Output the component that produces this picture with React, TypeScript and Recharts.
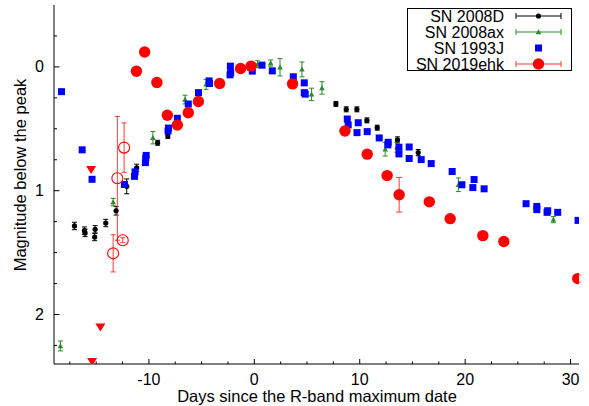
import { ErrorBar, Legend, Scatter, ScatterChart, XAxis, YAxis } from "recharts";

const FONT = "'Liberation Sans', Arial, Helvetica, sans-serif";

// axis ticks
const xTicks = [-17.5, -15, -12.5, -10, -7.5, -5, -2.5, 0, 2.5, 5, 7.5, 10, 12.5, 15, 17.5, 20, 22.5, 25, 27.5, 30];
const xLabels = [-10, 0, 10, 20, 30];
const yTicks = [-0.25, 0, 0.25, 0.5, 0.75, 1, 1.25, 1.5, 1.75, 2, 2.25];
const yLabels = [0, 1, 2];

// SN 2008D
const d08Days = [-17.06, -16.11, -16.05, -15.14, -15.1, -14.09, -13.11, -12.1, -11.16, -9.17, -8.2, 7.74, 8.72, 9.73, 10.68, 11.66, 13.58, 15.55];
const d08Mag = [1.285, 1.323, 1.341, 1.374, 1.312, 1.261, 1.162, 0.965, 0.816, 0.613, 0.558, 0.299, 0.343, 0.343, 0.432, 0.491, 0.59, 0.692];
const d08Err = [0.03, 0.03, 0.03, 0.03, 0.03, 0.03, 0.035, 0.06, 0.03, 0.02, 0.02, 0.02, 0.02, 0.02, 0.02, 0.02, 0.025, 0.025];

// SN 2008ax
const ax08Days = [-18.39, -13.39, -9.62, -6.57, -4.57, 0.31, 1.55, 2.44, 4.52, 5.43, 6.42, 12.42, 13.53, 19.36, 28.37];
const ax08Mag = [2.254, 1.092, 0.572, 0.264, 0.141, -0.022, -0.031, 0.003, 0.02, 0.222, 0.17, 0.665, 0.649, 0.952, 1.234];
const ax08Err = [0.04, 0.03, 0.05, 0.035, 0.04, 0.028, 0.025, 0.07, 0.06, 0.05, 0.05, 0.055, 0.04, 0.055, 0.025];

// SN 1993J
const j93Days = [-18.29, -16.33, -15.39, -12.32, -11.37, -11.31, -10.33, -10.3, -10.26, -8.18, -8.14, -7.3, -6.26, -5.29, -4.29, -4.25, -2.27, -2.24, -2.3, -0.19, 0.73, 1.71, 3.7, 4.74, 4.74, 4.83, 8.82, 8.91, 9.86, 9.74, 10.71, 11.85, 12.7, 12.67, 13.72, 13.72, 14.69, 14.69, 15.83, 16.78, 18.77, 19.69, 20.85, 20.73, 21.8, 25.78, 26.8, 26.8, 27.83, 27.77, 28.78, 30.71];
const j93Mag = [0.2, 0.67, 0.908, 0.95, 0.884, 0.848, 0.773, 0.739, 0.715, 0.518, 0.494, 0.415, 0.3, 0.208, 0.113, 0.134, -0.006, 0.045, 0.064, 0.034, -0.014, 0.032, 0.08, 0.129, 0.208, 0.22, 0.421, 0.469, 0.451, 0.531, 0.523, 0.574, 0.609, 0.63, 0.649, 0.703, 0.647, 0.74, 0.749, 0.781, 0.845, 0.952, 0.91, 0.975, 0.985, 1.105, 1.127, 1.153, 1.162, 1.175, 1.175, 1.24];

// SN 2019ehk
const ehkDays = [-11.18, -10.4, -9.24, -8.25, -7.3, -6.26, -5.3, -3.29, -1.3, -0.31, 3.63, 8.6, 10.71, 12.6, 13.74, 16.6, 18.58, 21.68, 23.67, 30.68];
const ehkMag = [0.035, -0.12, 0.126, 0.39, 0.47, 0.37, 0.28, 0.134, 0.013, -0.006, 0.137, 0.518, 0.705, 0.878, 1.033, 1.09, 1.226, 1.363, 1.411, 1.71];
const ehkErr = [0, 0, 0, 0, 0, 0, 0, 0, 0, 0, 0, 0, 0, 0, 0.14, 0, 0, 0.03, 0, 0.03];

// SN 2019ehk, early points (open circles)
const ehkEarlyDays = [-12.35, -12.99, -12.48, -13.39];
const ehkEarlyMag = [0.652, 0.9, 1.4, 1.506];
const ehkEarlyErr = [0.2, 0.5, 0.02, 0.15];

// SN 2019ehk upper limits
const ehkLimDays = [-15.48, -14.6, -15.38];
const ehkLimMag = [0.832, 2.106, 2.383];

const legendNames = ["SN 2008D", "SN 2008ax", "SN 1993J", "SN 2019ehk"];

const zip = (xs: number[], ys: number[], es?: number[]) =>
  xs.map((x, i) => ({ x, y: ys[i], err: es ? es[i] : 0 }));

const d08 = zip(d08Days, d08Mag, d08Err);
const ax08 = zip(ax08Days, ax08Mag, ax08Err);
const j93 = zip(j93Days, j93Mag);
const ehk = zip(ehkDays, ehkMag, ehkErr);
const ehkEarly = zip(ehkEarlyDays, ehkEarlyMag, ehkEarlyErr);
const ehkLim = zip(ehkLimDays, ehkLimMag);

const RED = "#ff0000";
const RED_BAR = "#ff3a3a";
const GREEN = "#2a8c2a";
const BLUE = "#0000ff";

const dot = (p: any) => <circle cx={p.cx} cy={p.cy} r={2.6} fill="#000" />;
const tri = (p: any) => (
  <path d={`M${p.cx - 2.8},${p.cy + 2.2}L${p.cx + 2.8},${p.cy + 2.2}L${p.cx},${p.cy - 2.8}Z`} fill={GREEN} />
);
const square = (p: any) => <rect x={p.cx - 3.5} y={p.cy - 3.5} width={7} height={7} fill={BLUE} />;
const bigDot = (p: any) => <circle cx={p.cx} cy={p.cy} r={5.7} fill={RED} />;
const ring = (p: any) => <circle cx={p.cx} cy={p.cy} r={5.5} fill="none" stroke={RED} strokeWidth={1.1} />;
const downTri = (p: any) => (
  <path d={`M${p.cx - 5},${p.cy - 4}L${p.cx + 5},${p.cy - 4}L${p.cx},${p.cy + 4}Z`} fill={RED} />
);

function BottomTick(p: any) {
  const major = xLabels.includes(p.payload.value);
  return (
    <g>
      <line x1={p.x} x2={p.x} y1={p.y} y2={p.y - (major ? 5 : 2.5)} stroke="#000" />
      {major && (
        <text x={p.x} y={p.y + 20.5} textAnchor="middle" fontSize={16} fontFamily={FONT} fill="#000">
          {p.payload.value}
        </text>
      )}
    </g>
  );
}

function TopTick(p: any) {
  const major = xLabels.includes(p.payload.value);
  return <line x1={p.x} x2={p.x} y1={p.y} y2={p.y + (major ? 5 : 2.5)} stroke="#000" />;
}

function LeftTick(p: any) {
  const major = yLabels.includes(p.payload.value);
  return (
    <g>
      <line x1={p.x} x2={p.x + (major ? 5.5 : 3)} y1={p.y} y2={p.y} stroke="#000" />
      {major && (
        <text x={p.x - 10} y={p.y + 5.5} textAnchor="end" fontSize={16} fontFamily={FONT} fill="#000">
          {p.payload.value}
        </text>
      )}
    </g>
  );
}

function RightTick(p: any) {
  const major = yLabels.includes(p.payload.value);
  return <line x1={p.x} x2={p.x - (major ? 5.5 : 3)} y1={p.y} y2={p.y} stroke="#000" />;
}

function LegendBox() {
  const rowY = [8, 24, 40, 56];
  const sample = (i: number, y: number) => {
    if (i === 2) return <rect x={128} y={y - 3.5} width={7} height={7} fill={BLUE} />;
    const c = i === 0 ? "#000" : i === 1 ? GREEN : RED_BAR;
    return (
      <g>
        <line x1={109} x2={154} y1={y} y2={y} stroke={c} />
        <line x1={109} x2={109} y1={y - 3} y2={y + 3} stroke={c} />
        <line x1={154} x2={154} y1={y - 3} y2={y + 3} stroke={c} />
        {i === 0 && <circle cx={131.5} cy={y} r={2.6} fill="#000" />}
        {i === 1 && <path d={`M128.7,${y + 2.2}L134.3,${y + 2.2}L131.5,${y - 2.8}Z`} fill={GREEN} />}
        {i === 3 && <circle cx={131.5} cy={y} r={5.7} fill={RED} />}
      </g>
    );
  };
  return (
    <svg width={166} height={64} style={{ display: "block" }}>
      <rect x={0.5} y={0.5} width={164} height={62} fill="#fff" stroke="#000" />
      {legendNames.map((n, i) => (
        <g key={n}>
          <text x={97} y={rowY[i] + 5.5} textAnchor="end" fontSize={16} fontFamily={FONT} fill="#000">
            {n}
          </text>
          {sample(i, rowY[i])}
        </g>
      ))}
    </svg>
  );
}

export default function App() {
  return (
    <div style={{ position: "absolute", left: 0, top: 0, width: 589, height: 406, background: "#fff" }}>
      <ScatterChart width={589} height={406} margin={{ top: 5, right: 10, bottom: 0, left: 0 }}>
        <XAxis
          xAxisId="b"
          type="number"
          dataKey="x"
          domain={[-19, 30.8]}
          allowDataOverflow
          ticks={xTicks}
          interval={0}
          tickSize={0}
          tickMargin={0}
          tick={BottomTick}
          height={42}
          axisLine={{ stroke: "#000" }}
          tickLine={false}
          label={() => (
            <text x={317} y={402} textAnchor="middle" fontSize={16.5} fontFamily={FONT} fill="#000">
              Days since the R-band maximum date
            </text>
          )}
        />
        <XAxis
          xAxisId="t"
          orientation="top"
          type="number"
          dataKey="x"
          domain={[-19, 30.8]}
          allowDataOverflow
          ticks={xTicks}
          interval={0}
          tickSize={0}
          tickMargin={0}
          tick={TopTick}
          height={0}
          axisLine={{ stroke: "#000" }}
          tickLine={false}
        />
        <YAxis
          yAxisId="l"
          type="number"
          dataKey="y"
          domain={[-0.5, 2.4]}
          reversed
          allowDataOverflow
          ticks={yTicks}
          interval={0}
          tickSize={0}
          tickMargin={0}
          tick={LeftTick}
          width={54}
          axisLine={{ stroke: "#000" }}
          tickLine={false}
          label={() => (
            <text
              x={26}
              y={175}
              transform="rotate(-90 26 175)"
              textAnchor="middle"
              fontSize={16.5}
              fontFamily={FONT}
              fill="#000"
            >
              Magnitude below the peak
            </text>
          )}
        />
        <YAxis
          yAxisId="r"
          orientation="right"
          type="number"
          dataKey="y"
          domain={[-0.5, 2.4]}
          reversed
          allowDataOverflow
          ticks={yTicks}
          interval={0}
          tickSize={0}
          tickMargin={0}
          tick={RightTick}
          width={0}
          axisLine={{ stroke: "#000" }}
          tickLine={false}
        />
        <Legend
          layout="vertical"
          align="center"
          verticalAlign="middle"
          content={() => <LegendBox />}
          wrapperStyle={{ left: 407, top: 8, width: 166, height: 64 }}
        />
        <Scatter name="SN 2008D" data={d08} xAxisId="b" yAxisId="l" shape={dot} isAnimationActive={false} legendType="none">
          <ErrorBar dataKey="err" direction="y" width={2.5} stroke="#000" strokeWidth={1} isAnimationActive={false} />
        </Scatter>
        <Scatter name="SN 2008ax" data={ax08} xAxisId="b" yAxisId="l" shape={tri} isAnimationActive={false} legendType="none">
          <ErrorBar dataKey="err" direction="y" width={2.5} stroke={GREEN} strokeWidth={1} isAnimationActive={false} />
        </Scatter>
        <Scatter name="SN 1993J" data={j93} xAxisId="b" yAxisId="l" shape={square} isAnimationActive={false} legendType="none" />
        <Scatter name="SN 2019ehk early" data={ehkEarly} xAxisId="b" yAxisId="l" shape={ring} isAnimationActive={false} legendType="none">
          <ErrorBar dataKey="err" direction="y" width={2.5} stroke={RED_BAR} strokeWidth={1} isAnimationActive={false} />
        </Scatter>
        <Scatter name="SN 2019ehk limits" data={ehkLim} xAxisId="b" yAxisId="l" shape={downTri} isAnimationActive={false} legendType="none" />
        <Scatter name="SN 2019ehk" data={ehk} xAxisId="b" yAxisId="l" shape={bigDot} isAnimationActive={false} legendType="none">
          <ErrorBar dataKey="err" direction="y" width={3} stroke={RED_BAR} strokeWidth={1} isAnimationActive={false} />
        </Scatter>
      </ScatterChart>
    </div>
  );
}
